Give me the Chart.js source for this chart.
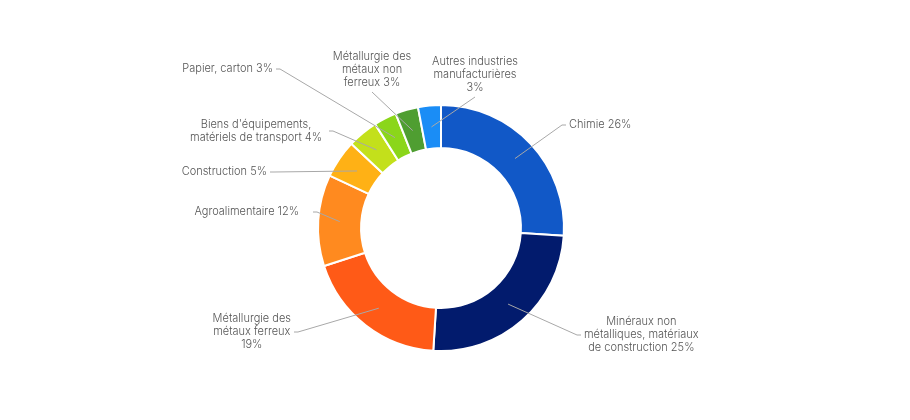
<!DOCTYPE html>
<html>
<head>
<meta charset="utf-8">
<script src="https://cdn.jsdelivr.net/npm/chart.js@4.4.1/dist/chart.umd.min.js"></script>
<style>
  html, body { margin: 0; padding: 0; background: #fff; }
  .wrap { width: 910px; height: 420px; position: relative; }
</style>
</head>
<body>
<div class="wrap"><canvas id="industryChart"></canvas></div>
<script>
// Data
const categories = [
  'Chimie',
  'Minéraux non métalliques, matériaux de construction',
  'Métallurgie des métaux ferreux',
  'Agroalimentaire',
  'Construction',
  "Biens d'équipements, matériels de transport",
  'Papier, carton',
  'Métallurgie des métaux non ferreux',
  'Autres industries manufacturières'
];
const shares = [26, 25, 19, 12, 5, 4, 3, 3, 3];
const sliceColors = [
  '#1158c7', '#021b6d', '#ff5a17', '#ff8a1f', '#ffb115',
  '#c3e01b', '#8bd61a', '#4f9e31', '#1a8df6'
];

// Label placement (elbow offset from centre at a 123px radius, side, words per line)
const labelLayout = [
  { dx: 121, dy: -103, side: 'right', lines: [] },
  { dx: 136, dy: 107, side: 'right', lines: [2, 2] },
  { dx: -143, dy: 104, side: 'left', lines: [2, 2] },
  { dx: -124, dy: -16, side: 'left', lines: [], gap: 14 },
  { dx: -167, dy: -56, side: 'left', lines: [] },
  { dx: -108, dy: -97, side: 'left', lines: [2], gap: 7 },
  { dx: -161, dy: -159, side: 'left', lines: [] },
  { dx: -69, dy: -136, side: 'top', lines: [2, 2] },
  { dx: 34, dy: -131, side: 'top', lines: [2, 1] }
];

function splitWords(text, counts) {
  const words = text.split(' ');
  const out = [];
  let pos = 0;
  counts.forEach(n => {
    out.push(words.slice(pos, pos + n).join(' '));
    pos += n;
  });
  if (pos < words.length) out.push(words.slice(pos).join(' '));
  return out;
}

// Outside labels with leader lines
const outsideLabels = {
  id: 'outsideLabels',
  afterDatasetsDraw(chart) {
    const ctx = chart.ctx;
    const meta = chart.getDatasetMeta(0);
    const cx = meta.data[0].x;
    const cy = meta.data[0].y;
    const k = meta.data[0].outerRadius / 123;
    const lineH = 13;
    ctx.save();
    ctx.font = '300 11px Inter, "Noto Sans", sans-serif';
    ctx.textBaseline = 'middle';
    ctx.textAlign = 'center';
    meta.data.forEach((arc, i) => {
      const lay = labelLayout[i];
      const text = categories[i] + ' ' + shares[i] + '%';
      const lines = splitWords(text, lay.lines);
      const start = arc.getCenterPoint();
      const ex = cx + lay.dx * k;
      const ey = cy + lay.dy * k;
      const stub = 4;
      const gap = lay.gap || 3;
      const w = Math.max(...lines.map(l => ctx.measureText(l).width));

      ctx.strokeStyle = '#a8a8a8';
      ctx.lineWidth = 1;
      ctx.beginPath();
      ctx.moveTo(start.x, start.y);
      ctx.lineTo(ex, ey);
      let tx, ty;
      if (lay.side === 'right') {
        ctx.lineTo(ex + stub, ey);
        tx = ex + stub + gap + w / 2;
        ty = ey - (lines.length - 1) * lineH / 2;
      } else if (lay.side === 'left') {
        ctx.lineTo(ex - stub, ey);
        tx = ex - stub - gap - w / 2;
        ty = ey - (lines.length - 1) * lineH / 2;
      } else {
        tx = ex;
        ty = ey - 9 - (lines.length - 1) * lineH;
      }
      ctx.stroke();

      ctx.fillStyle = '#555555';
      lines.forEach((l, j) => ctx.fillText(l, tx, ty + j * lineH));
    });
    ctx.restore();
  }
};

const industryChart = new Chart(
  document.getElementById('industryChart'),
  {
    type: 'doughnut',
    data: {
      labels: categories,
      datasets: [{
        data: shares,
        backgroundColor: sliceColors,
        borderColor: '#ffffff',
        borderWidth: 2
      }]
    },
    options: {
      responsive: true,
      maintainAspectRatio: false,
      animation: false,
      cutout: '65%',
      layout: {
        padding: { top: 104, bottom: 68, left: 0, right: 28 }
      },
      plugins: {
        legend: { display: false },
        tooltip: { enabled: false }
      }
    },
    plugins: [outsideLabels]
  }
);
</script>
</body>
</html>
